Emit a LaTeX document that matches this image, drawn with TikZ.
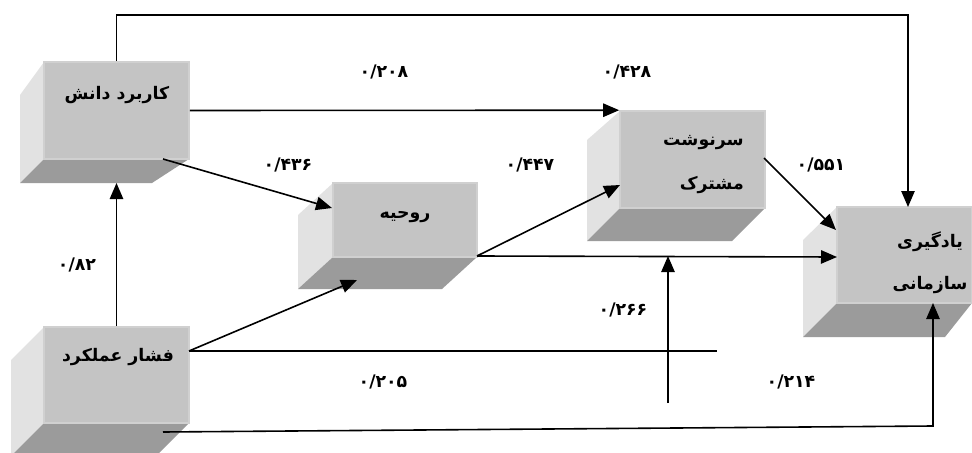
\documentclass[tikz,border=0pt]{standalone}
\usepackage{fontspec}
\usetikzlibrary{arrows.meta,fit}
\newfontfamily\fa[Script=Arabic]{DejaVu Sans}
\TeXXeTstate=1
\definecolor{frontc}{HTML}{C4C4C4}
\definecolor{edgec}{HTML}{D0D0D0}
\definecolor{sidec}{HTML}{E2E2E2}
\definecolor{botc}{HTML}{9B9B9B}
\tikzset{
  front/.style={fill=frontc, draw=edgec, line width=1.2pt, inner sep=0pt},
  conn/.style={line width=1.2pt, draw=black},
  arr/.style={conn, -{Triangle[length=12pt,width=10pt]}},
  boxlabel/.style={font=\fa\bfseries\fontsize{13}{15}\selectfont, inner sep=0pt},
  coef/.style={font=\fa\bfseries\fontsize{13}{15}\selectfont, inner sep=0pt},
}
% name x1 y1 x2 y2 xl ys yb xbr
\newcommand\threedbox[9]{%
  \fill[sidec] (#2,#3) -- (#6,#7) -- (#6,#8) -- (#2,#5) -- cycle;
  \fill[botc] (#2,#5) -- (#4,#5) -- (#9,#8) -- (#6,#8) -- cycle;
  \coordinate (#1nw) at (#2,#3);
  \coordinate (#1se) at (#4,#5);
  \node[front, fit=(#1nw)(#1se)] (#1) {};
}
\begin{document}
\begin{tikzpicture}[x=0.75pt,y=-0.75pt]
\useasboundingbox (0,0) rectangle (972,453);
\begin{scope}
\clip (0,0) rectangle (972,453);
\threedbox{b1}{44}{62}{189}{159}{20}{95}{183}{152}
\threedbox{b2}{44}{327}{189}{423}{11}{360}{456}{156}
\threedbox{b3}{333}{183}{477}{257}{298}{215}{289}{442}
\threedbox{b4}{620}{111}{765}{208}{587}{140}{241}{732}
\threedbox{b5}{837}{207}{972}{303}{803}{240}{337}{945}
\end{scope}

% box labels
\node[boxlabel] (t1) at (117,95) {\beginR کاربرد دانش\endR};
\node[boxlabel] (t2) at (118,357) {\beginR فشار عملکرد\endR};
\node[boxlabel] (t3) at (405,217) {\beginR روحیه\endR};
\node[boxlabel, anchor=east] (t4a) at (744,143) {\beginR سرنوشت\endR};
\node[boxlabel, anchor=east] (t4b) at (744,185) {\beginR مشترک\endR};
\node[boxlabel] (t5a) at (930,242) {\beginR یادگیری\endR};
\node[boxlabel] (t5b) at (930,285) {\beginR سازمانی\endR};

% connector end points
\coordinate (p1top) at (116.5,15);
\coordinate (p5top) at (908,207);
\coordinate (p1s) at (163,159);
\coordinate (p3w) at (332,208);
\coordinate (p1b) at (116.5,183);
\coordinate (p2e) at (189,351);
\coordinate (p3b) at (357,280);
\coordinate (p2end) at (717,351);
\coordinate (pvlow) at (668,403);
\coordinate (p4b) at (668,256);
\coordinate (p3e) at (477,256);
\coordinate (p5w) at (837,257);
\coordinate (p4w) at (620,185);
\coordinate (p4e) at (764,158);
\coordinate (p5w2) at (836,230);
\coordinate (p2s) at (163,432);
\coordinate (pcorner) at (933,426);
\coordinate (p5b) at (933,303);

% connectors
\draw[arr] (b1.north) -- (p1top) -| (p5top);
\draw[arr] (b1.east) -- (b4.north west);
\draw[arr] (p1s) -- (p3w);
\draw[arr] (b2.north) -- (p1b);
\draw[arr] (p2e) -- (p3b);
\draw[conn] (p2e) -- (p2end);
\draw[arr] (pvlow) -- (p4b);
\draw[arr] (p3e) -- (p5w);
\draw[arr] (p3e) -- (p4w);
\draw[arr] (p4e) -- (p5w2);
\draw[arr] (p2s) -- (pcorner) -- (p5b);

% coefficients
\node[coef] (c208) at (384,72) {۰/۲۰۸};
\node[coef] (c428) at (627,72) {۰/۴۲۸};
\node[coef] (c436) at (288,165) {۰/۴۳۶};
\node[coef] (c447) at (530,165) {۰/۴۴۷};
\node[coef] (c551) at (821,165) {۰/۵۵۱};
\node[coef] (c82) at (77,265) {۰/۸۲};
\node[coef] (c266) at (623,310) {۰/۲۶۶};
\node[coef] (c205) at (383,382) {۰/۲۰۵};
\node[coef] (c214) at (791,382) {۰/۲۱۴};
\end{tikzpicture}
\end{document}
